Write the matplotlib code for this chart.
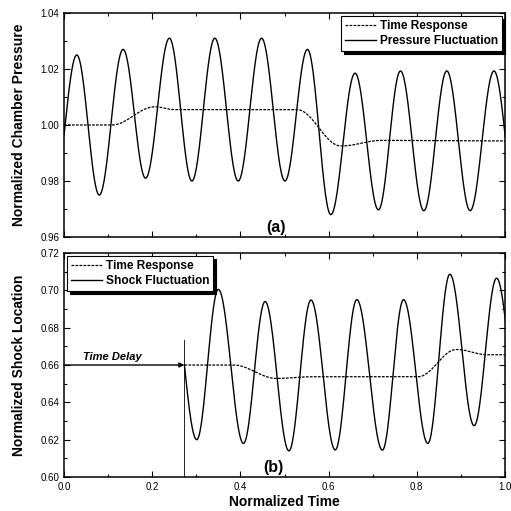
import numpy as np
import matplotlib
matplotlib.use("Agg")
import matplotlib.pyplot as plt

plt.rcParams['font.family'] = ['Liberation Sans', 'DejaVu Sans']

# ---- data ----
# (a) pressure fluctuation: extrema (time, value); first/last lie just outside the axis
p_ext_t = [-0.024, 0.029, 0.080, 0.134, 0.185, 0.239, 0.290, 0.342, 0.395, 0.448,
           0.501, 0.552, 0.605, 0.660, 0.713, 0.763, 0.816, 0.868, 0.921, 0.975, 1.028]
p_ext_v = [0.975, 1.025, 0.975, 1.027, 0.981, 1.031, 0.980, 1.031, 0.980, 1.031,
           0.980, 1.027, 0.968, 1.0185, 0.9697, 1.0193, 0.9694, 1.0193, 0.9694, 1.0193, 0.9694]
# (a) time response key points
pr_t = [0.0, 0.108, 0.206, 0.250, 0.528, 0.628, 0.720, 1.0]
pr_v = [1.000, 1.000, 1.0065, 1.0055, 1.0055, 0.9925, 0.9945, 0.9943]

# (b) shock fluctuation extrema; starts at the delay time
delay = 0.273
s_ext_t = [0.245, 0.301, 0.350, 0.407, 0.456, 0.510, 0.560, 0.615, 0.664, 0.722,
           0.770, 0.825, 0.875, 0.930, 0.981, 1.035]
s_ext_v = [0.700, 0.620, 0.7005, 0.618, 0.694, 0.614, 0.6948, 0.6145, 0.695, 0.6144,
           0.695, 0.618, 0.7086, 0.6275, 0.7065, 0.630]
# (b) time response key points
sr_t = [0.273, 0.384, 0.482, 0.560, 0.803, 0.890, 0.960, 1.0]
sr_v = [0.660, 0.660, 0.6528, 0.6537, 0.6537, 0.6683, 0.6655, 0.6655]
delay_level = 0.66


def cos_path(tk, vk, n=60):
    ts, vs = [], []
    for i in range(len(tk) - 1):
        s = np.linspace(0, 1, n, endpoint=False)
        ts.append(tk[i] + (tk[i + 1] - tk[i]) * s)
        vs.append(vk[i] + (vk[i + 1] - vk[i]) * (1 - np.cos(np.pi * s)) / 2)
    ts.append([tk[-1]]); vs.append([vk[-1]])
    return np.concatenate(ts), np.concatenate(vs)


W = 511 / 100
fig = plt.figure(figsize=(W, W), dpi=100)
L, R = 64 / 511, 505 / 511
ax1 = fig.add_axes([L, (511 - 237) / 511, R - L, (237 - 13) / 511])
ax2 = fig.add_axes([L, (511 - 477) / 511, R - L, (477 - 253) / 511])

dash = (0, (2.2, 1.0))
lw = 0.9

for ax in (ax1, ax2):
    ax.set_xlim(0, 1)
    ax.set_xticks(np.arange(0, 1.01, 0.2))
    ax.set_xticks(np.arange(0.1, 1.0, 0.2), minor=True)
    ax.tick_params(which='both', direction='in', top=True, right=True, labelsize=7,
                   width=0.8)
    ax.tick_params(which='major', length=4.5)
    ax.tick_params(which='minor', length=2.5)
    for sp in ax.spines.values():
        sp.set_linewidth(1.1)

leg_kw = dict(prop={'weight': 'bold', 'size': 8.6}, fancybox=False,
              shadow={'color': 'black', 'alpha': 1.0}, framealpha=1,
              edgecolor='black', handlelength=2.6, handletextpad=0.3,
              borderpad=0.35, labelspacing=0.22, borderaxespad=0.25)

# ---- panel (a) ----
t, v = cos_path(p_ext_t, p_ext_v)
ax1.plot(*cos_path(pr_t, pr_v), color='black', lw=lw, ls=dash, label='Time Response')
ax1.plot(t, v, color='black', lw=1.0, label='Pressure Fluctuation')
ax1.set_ylim(0.96, 1.04)
ax1.set_yticks(np.arange(0.96, 1.0401, 0.02))
ax1.set_yticks(np.arange(0.97, 1.04, 0.02), minor=True)
ax1.yaxis.set_major_formatter(matplotlib.ticker.FormatStrFormatter('%.2f'))
ax1.set_xticklabels([])
ax1.set_ylabel('Normalized Chamber Pressure', fontsize=10, fontweight='bold', labelpad=10)
leg1 = ax1.legend(loc='upper right', **leg_kw)
leg1.get_frame().set_linewidth(0.8)
ax1.text(0.48, 0.9608, '(a)', fontsize=11.5, fontweight='bold', ha='center', va='bottom')

# ---- panel (b) ----
t, v = cos_path(s_ext_t, s_ext_v)
m = t >= delay
ax2.plot(*cos_path(sr_t, sr_v), color='black', lw=lw, ls=dash, label='Time Response')
ax2.plot(t[m], v[m], color='black', lw=1.0, label='Shock Fluctuation')
ax2.set_ylim(0.60, 0.72)
ax2.set_yticks(np.arange(0.60, 0.7201, 0.02))
ax2.set_yticks(np.arange(0.61, 0.72, 0.02), minor=True)
ax2.yaxis.set_major_formatter(matplotlib.ticker.FormatStrFormatter('%.2f'))
ax2.set_xticklabels(['0.0', '0.2', '0.4', '0.6', '0.8', '1.0'])
ax2.set_ylabel('Normalized Shock Location', fontsize=10, fontweight='bold', labelpad=10)
ax2.set_xlabel('Normalized Time', fontsize=10, fontweight='bold', labelpad=2)
leg2 = ax2.legend(loc='upper left', **leg_kw)
leg2.get_frame().set_linewidth(0.8)
ax2.annotate('', xy=(delay, delay_level), xytext=(0.0, delay_level),
             arrowprops=dict(arrowstyle='-|>', color='black', lw=1.0,
                             mutation_scale=7, shrinkA=0, shrinkB=0))
ax2.plot([delay, delay], [0.60, 0.6734], color='black', lw=0.6)
ax2.text(0.11, 0.6615, 'Time Delay', fontsize=8, fontweight='bold', style='italic',
         ha='center', va='bottom')
ax2.text(0.474, 0.6012, '(b)', fontsize=11.5, fontweight='bold', ha='center', va='bottom')

fig.savefig('out.png', dpi=100)
